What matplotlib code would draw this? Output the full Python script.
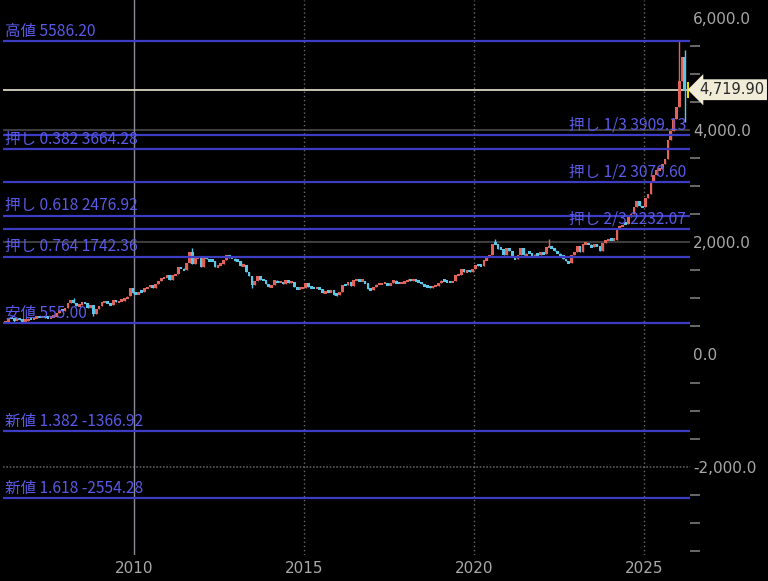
import matplotlib
matplotlib.use("Agg")
import matplotlib.pyplot as plt
from matplotlib.ticker import MultipleLocator, FuncFormatter
import matplotlib.transforms as mtransforms

# monthly closes, starting 2006-03
start_year, start_month = 2006, 3
first_open = 565.0
closes = [
    # 2006 (Mar-Dec)
    582, 654, 643, 614, 632, 623, 599, 604, 646, 632,
    # 2007
    650, 665, 662, 680, 659, 650, 666, 673, 743, 789, 783, 834,
    # 2008
    923, 972, 916, 864, 885, 930, 914, 833, 880, 718, 814, 869,
    # 2009
    928, 942, 916, 883, 979, 927, 955, 955, 1001, 1040, 1182, 1096,
    # 2010
    1081, 1118, 1113, 1180, 1212, 1244, 1181, 1248, 1307, 1357, 1386, 1421,
    # 2011
    1332, 1410, 1439, 1556, 1536, 1500, 1628, 1826, 1620, 1722, 1746, 1566,
    # 2012
    1738, 1711, 1669, 1664, 1562, 1598, 1614, 1692, 1773, 1719, 1713, 1675,
    # 2013
    1664, 1578, 1596, 1472, 1393, 1234, 1313, 1396, 1327, 1323, 1253, 1202,
    # 2014
    1244, 1326, 1284, 1296, 1250, 1327, 1282, 1287, 1211, 1171, 1182, 1184,
    # 2015
    1283, 1212, 1183, 1182, 1190, 1172, 1095, 1134, 1115, 1142, 1065, 1061,
    # 2016
    1118, 1238, 1232, 1293, 1215, 1321, 1350, 1309, 1316, 1275, 1174, 1152,
    # 2017
    1211, 1249, 1249, 1268, 1268, 1242, 1269, 1322, 1280, 1271, 1275, 1303,
    # 2018
    1345, 1318, 1325, 1315, 1298, 1253, 1224, 1201, 1192, 1215, 1222, 1282,
    # 2019
    1321, 1313, 1292, 1284, 1305, 1409, 1413, 1520, 1472, 1513, 1464, 1517,
    # 2020
    1589, 1585, 1577, 1686, 1730, 1781, 1975, 1968, 1886, 1879, 1776, 1898,
    # 2021
    1847, 1734, 1708, 1769, 1906, 1770, 1814, 1813, 1743, 1783, 1774, 1829,
    # 2022
    1797, 1909, 1937, 1896, 1837, 1807, 1766, 1711, 1660, 1633, 1768, 1824,
    # 2023
    1928, 1827, 1969, 1990, 1962, 1919, 1965, 1940, 1849, 1983, 2036, 2063,
    # 2024
    2039, 2044, 2230, 2286, 2327, 2326, 2447, 2503, 2635, 2744, 2643, 2625,
    # 2025
    2798, 2858, 3080, 3200, 3290, 3310, 3390, 3480, 3820, 3990, 4200, 4420,
    # 2026 (Jan-Mar)
    4870, 5300, 4719.9,
]
# wick extremes
highs = {(2008, 3): 1005, (2011, 9): 1890, (2020, 8): 2055, (2022, 3): 2050,
         (2026, 1): 5586.2, (2026, 3): 5420}
lows = {(2006, 6): 555.0, (2008, 10): 690, (2013, 6): 1180, (2015, 12): 1045,
        (2026, 3): 4150}

last_price = 4719.90

fib_left = [("高値 5586.20", 5586.20), ("押し 0.382 3664.28", 3664.28),
            ("押し 0.618 2476.92", 2476.92), ("押し 0.764 1742.36", 1742.36),
            ("安値 555.00", 555.00), ("新値 1.382 -1366.92", -1366.92),
            ("新値 1.618 -2554.28", -2554.28)]
fib_right = [("押し 1/3 3909.13", 3909.13), ("押し 1/2 3070.60", 3070.60),
             ("押し 2/3 2232.07", 2232.07)]

year_ticks = [2010, 2015, 2020, 2025]

# colors
BG = "#000000"
UP = "#e0645a"
DOWN = "#5cc6e6"
FIB_LINE = "#3c3cc4"
FIB_TEXT = "#5a5ae8"
TICK = "#a8a8a8"
JP = ['Noto Sans CJK JP', 'DejaVu Sans']

plt.rcParams['font.family'] = ['DejaVu Sans']
fig = plt.figure(figsize=(7.68, 5.81), dpi=100, facecolor=BG)
ax = fig.add_axes([3 / 768, 26 / 581, 687 / 768, 555 / 581], facecolor=BG)

# build candles
ts, opens, cl, hi, lo = [], [], [], [], []
prev = first_open
for i, c in enumerate(closes):
    m = start_month - 1 + i
    y, mo = start_year + m // 12, m % 12 + 1
    ts.append(y + (mo - 0.5) / 12)
    opens.append(prev)
    cl.append(c)
    hi.append(highs.get((y, mo), max(prev, c)))
    lo.append(min(lows.get((y, mo), min(prev, c)), min(prev, c)))
    prev = c

# grid
for v in [4000, 2000]:
    ax.axhline(v, color="#4a4a4a", lw=1.2, zorder=1)
ax.axhline(-2000, color="#5a5a5a", lw=1.2, ls=(0, (1, 1)), zorder=1)
for yr in year_ticks:
    if yr == 2010:
        ax.axvline(yr, color="#8a8a96", lw=1.0, zorder=1)
    else:
        ax.axvline(yr, color="#6a6a6a", lw=1.0, ls=(0, (1, 2)), zorder=1)

# current price line
ax.axhline(last_price, color="#d8d4c0", lw=1.3, zorder=2)

# candles
w = 0.08
for t, o, c, h, l in zip(ts, opens, cl, hi, lo):
    col = UP if c >= o else DOWN
    ax.vlines(t, l, h, color=col, lw=1.0, zorder=3)
    ax.bar(t, max(abs(c - o), 45), bottom=min(o, c) - (15 if abs(c - o) < 45 else 0),
           width=w, color=col, linewidth=0, zorder=3)

# fibonacci levels
for lab, v in fib_left + fib_right:
    ax.axhline(v, color=FIB_LINE, lw=1.6, zorder=4)
for lab, v in fib_left:
    ax.annotate(lab, xy=(0.003, v), xycoords=('axes fraction', 'data'),
                xytext=(0, 1.0), textcoords='offset points', ha='left', va='bottom',
                color=FIB_TEXT, fontsize=11.2, family=JP, zorder=5)
for lab, v in fib_right:
    ax.annotate(lab, xy=(0.994, v), xycoords=('axes fraction', 'data'),
                xytext=(0, 1.0), textcoords='offset points', ha='right', va='bottom',
                color=FIB_TEXT, fontsize=11.2, family=JP, zorder=5)

# current price marker and tag
ax.plot([ts[-1] + 0.09], [last_price], marker='|', markersize=12, color="#e8d800",
        markeredgewidth=1.5, zorder=6, clip_on=False)
trans = mtransforms.blended_transform_factory(ax.transAxes, ax.transData)
ax.text(1.013, last_price, f"{last_price:,.2f}", transform=trans, ha='left', va='center',
        color="#2a2a2a", fontsize=10.5,
        bbox=dict(boxstyle="larrow,pad=0.2", facecolor="#f0ecd8", edgecolor="none"),
        zorder=7, clip_on=False)

# axes
ax.set_xlim(2006.13, 2026.36)
ax.set_ylim(-3574, 6319)
for s in ax.spines.values():
    s.set_visible(False)
ax.yaxis.tick_right()
ax.yaxis.set_major_locator(MultipleLocator(2000))
ax.yaxis.set_minor_locator(MultipleLocator(500))
ax.yaxis.set_major_formatter(FuncFormatter(lambda v, p: f"{v:,.1f}"))
ax.tick_params(axis='y', which='major', length=0, pad=2, labelsize=11, labelcolor=TICK)
ax.tick_params(axis='y', which='minor', length=7.5, width=1.2, color="#7a7a7a", direction='out')
ax.set_xticks(year_ticks)
ax.set_xticklabels([str(y) for y in year_ticks])
ax.tick_params(axis='x', length=0, pad=4, labelsize=11, labelcolor=TICK)

fig.savefig("out.png", dpi=100, facecolor=BG)
